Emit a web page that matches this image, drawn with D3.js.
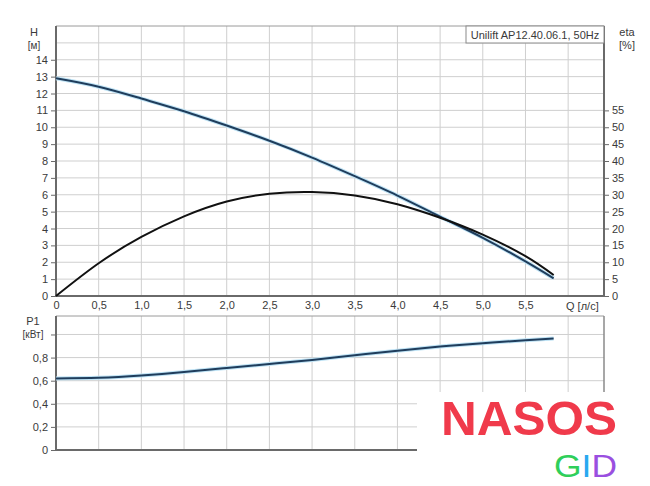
<!DOCTYPE html>
<html>
<head>
<meta charset="utf-8">
<script src="https://cdn.jsdelivr.net/npm/d3@7"></script>
<style>
  body { margin: 0; background: #fff; }
  text { font-family: "Liberation Sans", Arial, sans-serif; }
</style>
</head>
<body>
<script>
// flow points [l/s]
var flow = [0, 0.5, 1.0, 1.5, 2.0, 2.5, 3.0, 3.5, 4.0, 4.5, 5.0, 5.5, 5.83];
// head H [m]
var head = [12.9, 12.4, 11.7, 10.95, 10.1, 9.2, 8.2, 7.1, 5.95, 4.7, 3.45, 2.05, 1.05];
// efficiency eta [%]
var eta = [0, 9.7, 17.5, 23.6, 28.0, 30.3, 30.8, 29.8, 27.2, 23.2, 18.2, 11.8, 6.2];
// power P1 [kW]
var power = [0.62, 0.625, 0.645, 0.675, 0.71, 0.745, 0.78, 0.82, 0.86, 0.895, 0.925, 0.95, 0.965];

var qTicks = [0, 0.5, 1.0, 1.5, 2.0, 2.5, 3.0, 3.5, 4.0, 4.5, 5.0, 5.5, 6.0];
var hTicks = [0, 1, 2, 3, 4, 5, 6, 7, 8, 9, 10, 11, 12, 13, 14];
var hGrid = [1, 2, 3, 4, 5, 6, 7, 8, 9, 10, 11, 12, 13, 14, 15];
var etaTicks = [0, 5, 10, 15, 20, 25, 30, 35, 40, 45, 50, 55];
var pTicks = [0, 0.2, 0.4, 0.6, 0.8, 1.0];
var pLabels = ["0", "0,2", "0,4", "0,6", "0,8", ""];
var title = "Unilift AP12.40.06.1, 50Hz";

var width = 650, height = 486;
var svg = d3.select("body").append("svg")
   .attr("width", width)
   .attr("height", height);

var x = d3.scaleLinear().domain([0, 6.42]).range([56, 604]);
var yH = d3.scaleLinear().domain([0, 16]).range([296, 26]);
var yEta = d3.scaleLinear().domain([0, 80]).range([296, 26]);
var yP = d3.scaleLinear().domain([0, 1.16]).range([450, 316]);

var comma = function (d) { return d === 0 ? "0" : d3.format(".1f")(d).replace(".", ","); };
var gridColor = "#cfcfcf";
var axisColor = "#6a6a6a";
var labelColor = "#3a3a3a";

function styleAxis(g) {
   g.select(".domain").remove();
   g.selectAll("line").attr("stroke", axisColor);
   g.selectAll("text")
      .attr("fill", labelColor)
      .style("font-size", "11px");
}

// ---------- top chart ----------
var topG = svg.append("g");

topG.selectAll(".vgrid").data(qTicks.slice(1)).enter().append("line")
   .attr("x1", d => x(d)).attr("x2", d => x(d))
   .attr("y1", yH(16)).attr("y2", yH(0))
   .attr("stroke", gridColor);
topG.selectAll(".hgrid").data(hGrid).enter().append("line")
   .attr("x1", x(0)).attr("x2", x(6.42))
   .attr("y1", d => yH(d)).attr("y2", d => yH(d))
   .attr("stroke", gridColor);
topG.append("line")
   .attr("x1", x(0)).attr("x2", x(6.42))
   .attr("y1", yH(16)).attr("y2", yH(16))
   .attr("stroke", "#9a9a9a");

topG.append("g")
   .attr("transform", "translate(56,0)")
   .call(d3.axisLeft(yH).tickValues(hTicks).tickSize(5).tickPadding(3).tickFormat(d3.format("d")))
   .call(styleAxis);
topG.append("g")
   .attr("transform", "translate(604,0)")
   .call(d3.axisRight(yEta).tickValues(etaTicks).tickSize(5).tickPadding(3).tickFormat(d3.format("d")))
   .call(styleAxis);
topG.append("g")
   .attr("transform", "translate(0,296)")
   .call(d3.axisBottom(x).tickValues(qTicks.slice(0, -1)).tickSize(0).tickPadding(5).tickFormat(comma))
   .call(styleAxis);

topG.append("line").attr("x1", 56).attr("x2", 56).attr("y1", 26).attr("y2", 297)
   .attr("stroke", axisColor).attr("stroke-width", 2);
topG.append("line").attr("x1", 604).attr("x2", 604).attr("y1", 26).attr("y2", 297)
   .attr("stroke", axisColor).attr("stroke-width", 2);
topG.append("line").attr("x1", 55).attr("x2", 605).attr("y1", 296).attr("y2", 296)
   .attr("stroke", axisColor).attr("stroke-width", 2);

topG.append("text").attr("x", 566).attr("y", 310)
   .attr("fill", labelColor)
   .style("font-size", "11px").text("Q [л/с]");
topG.append("text").attr("x", 34).attr("y", 36)
   .attr("text-anchor", "middle").attr("fill", labelColor)
   .style("font-size", "11px").text("H");
topG.append("text").attr("x", 34).attr("y", 49)
   .attr("text-anchor", "middle").attr("fill", labelColor)
   .style("font-size", "10px").text("[м]");
topG.append("text").attr("x", 627).attr("y", 36)
   .attr("text-anchor", "middle").attr("fill", labelColor)
   .style("font-size", "11px").text("eta");
topG.append("text").attr("x", 627).attr("y", 49)
   .attr("text-anchor", "middle").attr("fill", labelColor)
   .style("font-size", "11px").text("[%]");

// title box
topG.append("rect").attr("x", 466).attr("y", 26).attr("width", 138).attr("height", 17)
   .attr("fill", "#fff").attr("stroke", "#8a8a8a");
topG.append("text").attr("x", 535).attr("y", 38.5)
   .attr("text-anchor", "middle").attr("fill", labelColor)
   .style("font-size", "11px").text(title);

var lineH = d3.line().x((d, i) => x(flow[i])).y(d => yH(d)).curve(d3.curveNatural);
var lineEta = d3.line().x((d, i) => x(flow[i])).y(d => yEta(d)).curve(d3.curveNatural);
var lineP = d3.line().x((d, i) => x(flow[i])).y(d => yP(d)).curve(d3.curveNatural);

topG.append("path").attr("d", lineH(head))
   .attr("fill", "none").attr("stroke", "#bfe3f5").attr("stroke-width", 4);
topG.append("path").attr("d", lineH(head))
   .attr("fill", "none").attr("stroke", "#1f3d5c").attr("stroke-width", 2);
topG.append("path").attr("d", lineEta(eta))
   .attr("fill", "none").attr("stroke", "#111").attr("stroke-width", 2);

// ---------- bottom chart ----------
var bot = svg.append("g");

bot.selectAll(".vgrid").data(qTicks.slice(1)).enter().append("line")
   .attr("x1", d => x(d)).attr("x2", d => x(d))
   .attr("y1", yP(1.16)).attr("y2", yP(0))
   .attr("stroke", gridColor);
bot.selectAll(".hgrid").data(pTicks.slice(1)).enter().append("line")
   .attr("x1", x(0)).attr("x2", x(6.42))
   .attr("y1", d => yP(d)).attr("y2", d => yP(d))
   .attr("stroke", gridColor);
bot.append("line")
   .attr("x1", x(0)).attr("x2", x(6.42))
   .attr("y1", yP(1.16)).attr("y2", yP(1.16))
   .attr("stroke", "#9a9a9a");

bot.append("g")
   .attr("transform", "translate(56,0)")
   .call(d3.axisLeft(yP).tickValues(pTicks).tickSize(5).tickPadding(3).tickFormat((d, i) => pLabels[i]))
   .call(styleAxis);

bot.append("line").attr("x1", 56).attr("x2", 56).attr("y1", 316).attr("y2", 451)
   .attr("stroke", axisColor).attr("stroke-width", 2);
bot.append("line").attr("x1", 604).attr("x2", 604).attr("y1", 316).attr("y2", 451)
   .attr("stroke", "#8a8a8a").attr("stroke-width", 1.5);
bot.append("line").attr("x1", 55).attr("x2", 605).attr("y1", 450).attr("y2", 450)
   .attr("stroke", axisColor).attr("stroke-width", 2);

bot.append("text").attr("x", 33).attr("y", 325)
   .attr("text-anchor", "middle").attr("fill", labelColor)
   .style("font-size", "11px").text("P1");
bot.append("text").attr("x", 33).attr("y", 338)
   .attr("text-anchor", "middle").attr("fill", labelColor)
   .style("font-size", "10px").text("[кВт]");

bot.append("path").attr("d", lineP(power))
   .attr("fill", "none").attr("stroke", "#bfe3f5").attr("stroke-width", 4);
bot.append("path").attr("d", lineP(power))
   .attr("fill", "none").attr("stroke", "#1f3d5c").attr("stroke-width", 2);

// ---------- logo ----------
var logo = svg.append("g");
logo.append("rect").attr("x", 417).attr("y", 392).attr("width", 233).attr("height", 94)
   .attr("fill", "#fff");
logo.append("text").attr("x", 441).attr("y", 435)
   .attr("textLength", 176).attr("lengthAdjust", "spacingAndGlyphs")
   .attr("fill", "#f03a4b")
   .style("font-family", "'Liberation Sans', sans-serif")
   .style("font-weight", "bold")
   .style("font-size", "48px")
   .text("NASOS");
var gid = logo.append("text").attr("x", 554).attr("y", 477)
   .attr("textLength", 63).attr("lengthAdjust", "spacingAndGlyphs")
   .style("font-family", "'Liberation Sans', sans-serif")
   .style("font-size", "32px");
gid.append("tspan").attr("fill", "#2fcf5a").text("G");
gid.append("tspan").attr("fill", "#2aa8f0").text("I");
gid.append("tspan").attr("fill", "#9a4fe0").text("D");
</script>
</body>
</html>
